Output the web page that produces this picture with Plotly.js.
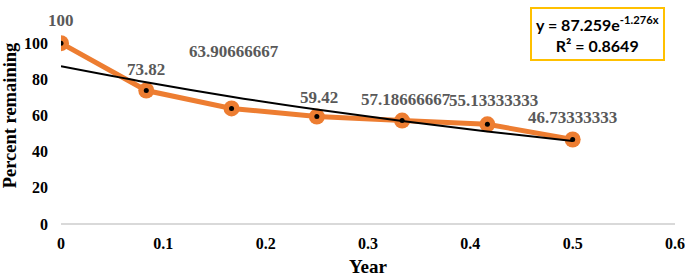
<!DOCTYPE html>
<html>
<head>
<meta charset="utf-8">
<script src="https://cdn.plot.ly/plotly-3.0.1.min.js"></script>
<style>html,body{margin:0;padding:0;background:#fff;}#chart{width:685px;height:277px;}</style>
</head>
<body>
<div id="chart"></div>
<script>
// Data
const years = [0, 0.0833333, 0.1666667, 0.25, 0.3333333, 0.4166667, 0.5];
const percentRemaining = [100, 73.82, 63.90666667, 59.42, 57.18666667, 55.13333333, 46.73333333];
const labelTexts = ["100", "73.82", "63.90666667", "59.42", "57.18666667", "55.13333333", "46.73333333"];
// exponential trendline values (y = 87.259e^-1.276x)
const trendYears = [0, 0.0833333, 0.1666667, 0.25, 0.3333333, 0.4166667, 0.5];
const trendValues = [87.26, 78.4, 70.4, 63.3, 56.9, 51.1, 45.9];
const equationText = "y = 87.259e<sup>-1.276x</sup><br>R² = 0.8649";

// label offsets (pixels)
const labelShiftY = [23, 21, 57, 19, 21, 24, 22];
const labelShiftX = [0, 0, 2, 2, 4, 6, 0];

const orange = '#ED7D31';
const serif = 'Liberation Serif';

const traces = [
  {
    x: years, y: percentRemaining, type: 'scatter', mode: 'lines+markers',
    line: {color: orange, width: 5},
    marker: {color: orange, size: 16, line: {width: 0}},
    hoverinfo: 'skip', showlegend: false
  },
  {
    x: trendYears, y: trendValues, type: 'scatter', mode: 'lines',
    line: {color: '#000', width: 2, shape: 'spline'},
    hoverinfo: 'skip', showlegend: false
  },
  {
    x: years, y: percentRemaining, type: 'scatter', mode: 'markers',
    marker: {color: '#000', size: 5},
    hoverinfo: 'skip', showlegend: false
  }
];

const annotations = years.map((x, i) => ({
  x: x, y: percentRemaining[i], xref: 'x', yref: 'y',
  text: '<b>' + labelTexts[i] + '</b>', showarrow: false,
  yshift: labelShiftY[i], xshift: labelShiftX[i],
  font: {family: serif, size: 17, color: '#595959'}
}));

annotations.push({
  xref: 'paper', yref: 'paper', x: 0.873, y: 1.0,
  xanchor: 'center', yanchor: 'top',
  text: '<b>' + equationText + '</b>', showarrow: false,
  font: {family: 'Lato', size: 16, color: '#000'},
  bordercolor: '#FFC000', borderwidth: 2, borderpad: 4, bgcolor: '#fff',
  align: 'center'
});

const layout = {
  width: 685, height: 277,
  margin: {l: 61, r: 10, t: 7, b: 53},
  paper_bgcolor: '#fff', plot_bgcolor: '#fff',
  font: {family: serif},
  xaxis: {
    range: [0, 0.6], dtick: 0.1, tick0: 0, showgrid: false, zeroline: false,
    showline: false, ticks: '',
    tickfont: {family: serif, size: 16, color: '#000', weight: 'bold'},
    ticklabelstandoff: 8,
    title: {text: '<b>Year</b>', font: {family: serif, size: 19, color: '#000'}, standoff: 10}
  },
  yaxis: {
    range: [0, 120], dtick: 20, tick0: 0, showgrid: false, zeroline: true,
    zerolinecolor: '#D9D9D9', zerolinewidth: 1.5, showline: false, ticks: '',
    tickfont: {family: serif, size: 16, color: '#000', weight: 'bold'},
    ticklabelstandoff: 12,
    title: {text: '<b>Percent remaining</b>', font: {family: serif, size: 18.5, color: '#000'}, standoff: 8}
  },
  annotations: annotations
};

Plotly.newPlot('chart', traces, layout, {displayModeBar: false, staticPlot: true});
</script>
</body>
</html>
